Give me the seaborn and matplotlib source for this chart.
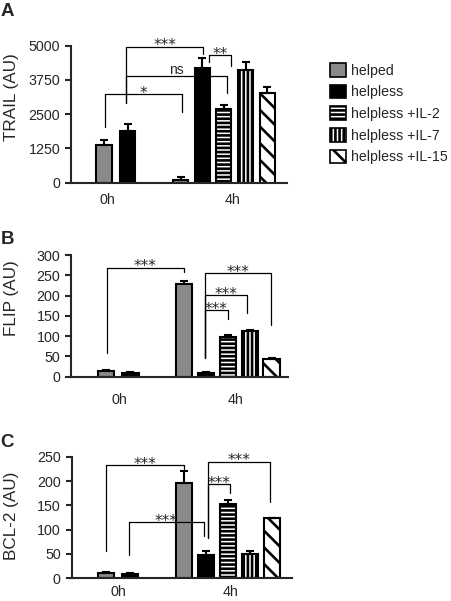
import numpy as np
import pandas as pd
import seaborn as sns
import matplotlib.pyplot as plt
from matplotlib.patches import Patch

# conditions / bar layout
conditions = ['helped', 'helpless', 'helpless +IL-2', 'helpless +IL-7', 'helpless +IL-15']
bar_cond = ['helped', 'helpless', 'helped', 'helpless',
            'helpless +IL-2', 'helpless +IL-7', 'helpless +IL-15']
bar_pos = [0, 1.1, 3.55, 4.55, 5.55, 6.55, 7.55]
time_labels = ['0h', '4h']

# values
trail = [1360, 1870, 90, 4180, 2680, 4110, 3260]
trail_err = [200, 290, 100, 380, 170, 300, 220]
flip = [14, 9, 228, 9, 97, 112, 44]
flip_err = [2, 2, 9, 2, 7, 4, 3]
bcl2 = [10, 9, 196, 48, 153, 50, 123]
bcl2_err = [2, 2, 25, 8, 8, 6, 2]

# significance brackets: x1, x2, top, left leg end, right leg end, label
trail_sig = [(0.05, 3.6, 3240, 2030, 2580, '*'),
             (1.02, 5.68, 3906, 2900, 3274, 'ns'),
             (1.02, 4.6, 4964, 2900, 4698, '***'),
             (4.88, 5.88, 4661, 4406, 4260, '**')]
flip_sig = [(0.03, 3.55, 269, 58, 259, '***'),
            (4.5, 7.52, 255, 46, 127, '***'),
            (4.5, 6.41, 201, 46, 157, '***'),
            (4.5, 5.56, 164, 46, 142, '***')]
bcl2_sig = [(0.0, 3.55, 232, 57, 225, '***'),
            (1.05, 4.46, 116, 48, 86, '***'),
            (4.63, 7.46, 240, 83, 157, '***'),
            (4.63, 5.64, 193, 83, 175, '***')]

colors = {'helped': '#8a8a8a', 'helpless': 'black', 'helpless +IL-2': 'white',
          'helpless +IL-7': 'white', 'helpless +IL-15': 'white'}
hatches = {'helped': '', 'helpless': '', 'helpless +IL-2': '----',
           'helpless +IL-7': '||||', 'helpless +IL-15': '\\\\'}

sns.set_style('ticks')
plt.rcParams['font.family'] = ['Liberation Sans', 'DejaVu Sans']
plt.rcParams['hatch.linewidth'] = 1.9
plt.rcParams['hatch.color'] = 'black'

W, H = 452, 601
fig = plt.figure(figsize=(W / 100, H / 100), dpi=100)


def panel(rect, vals, errs, sigs, ymax, yticks, xlim, width, xticks, xpad, ylab, ylab_y, letter, letter_y):
    l, t, r, b = rect
    ax = fig.add_axes([l / W, 1 - b / H, (r - l) / W, (b - t) / H])
    df = pd.DataFrame({'pos': bar_pos, 'val': vals, 'cond': bar_cond})
    sns.barplot(data=df, x='pos', y='val', hue='cond', hue_order=conditions,
                palette=colors, native_scale=True, dodge=False, width=width,
                edgecolor='black', linewidth=1.5, errorbar=None, legend=False, ax=ax)
    for p in ax.patches:
        cx = p.get_x() + p.get_width() / 2
        i = int(np.argmin([abs(cx - q) for q in bar_pos]))
        p.set_hatch(hatches[bar_cond[i]])
    ax.errorbar(bar_pos, vals, yerr=[np.zeros(len(vals)), errs], fmt='none',
                ecolor='black', elinewidth=1.5, capsize=3, capthick=1.5, zorder=3)
    for x1, x2, top, yl, yr, txt in sigs:
        ax.plot([x1, x1, x2, x2], [yl, top, top, yr], color='black', lw=0.9,
                clip_on=False, zorder=4)
        if txt == 'ns':
            ax.annotate(txt, ((x1 + x2) / 2, top), xytext=(0, 4), textcoords='offset points',
                        ha='center', va='center', fontsize=10, annotation_clip=False)
        else:
            ax.annotate(txt, ((x1 + x2) / 2, top), xytext=(0, 0.5), textcoords='offset points',
                        ha='center', va='center', fontsize=11, family='DejaVu Sans',
                        annotation_clip=False)
    ax.set_xlim(*xlim)
    ax.set_ylim(0, ymax)
    ax.set_yticks(yticks)
    ax.set_xticks(xticks)
    ax.set_xticklabels(time_labels)
    ax.set_xlabel('')
    ax.set_ylabel('')
    sns.despine(ax=ax)
    for s in ['left', 'bottom']:
        ax.spines[s].set_linewidth(1.5)
    ax.tick_params(axis='y', length=4.3, width=1.5, labelsize=10.3, pad=3.5)
    ax.tick_params(axis='x', length=0, labelsize=10.3, pad=xpad)
    fig.text(12 / W, 1 - ylab_y / H, ylab, rotation=90, ha='center', va='center', fontsize=12.3)
    fig.text(0.5 / W, 1 - letter_y / H, letter, ha='left', va='top', fontsize=13.5, fontweight='bold')
    return ax


panel((71, 45.7, 287, 182.7), trail, trail_err, trail_sig, 5000,
      [0, 1250, 2500, 3750, 5000], (-1.53, 8.47), 0.7, [0.14, 5.93], 7.2,
      'TRAIL (AU)', 97.5, 'A', 2.5)
panel((71, 255, 288.3, 376.7), flip, flip_err, flip_sig, 300,
      [0, 50, 100, 150, 200, 250, 300], (-1.61, 8.31), 0.75, [0.58, 5.88], 11.5,
      'FLIP (AU)', 298, 'B', 231)
panel((71.7, 456.7, 291.7, 578.3), bcl2, bcl2_err, bcl2_sig, 250,
      [0, 50, 100, 150, 200, 250], (-1.55, 8.45), 0.75, [0.57, 5.69], 4.8,
      'BCL-2 (AU)', 516, 'C', 434)

handles = [Patch(facecolor=colors[c], edgecolor='black', hatch=hatches[c], linewidth=1.2)
           for c in conditions]
fig.legend(handles=handles, labels=conditions, loc='upper left',
           bbox_to_anchor=(330 / W, 1 - 63 / H), frameon=False, fontsize=10.2,
           handlelength=1.1, handleheight=1.1, handletextpad=0.4,
           labelspacing=0.5, borderpad=0, borderaxespad=0)

fig.savefig('out.png', dpi=100)
